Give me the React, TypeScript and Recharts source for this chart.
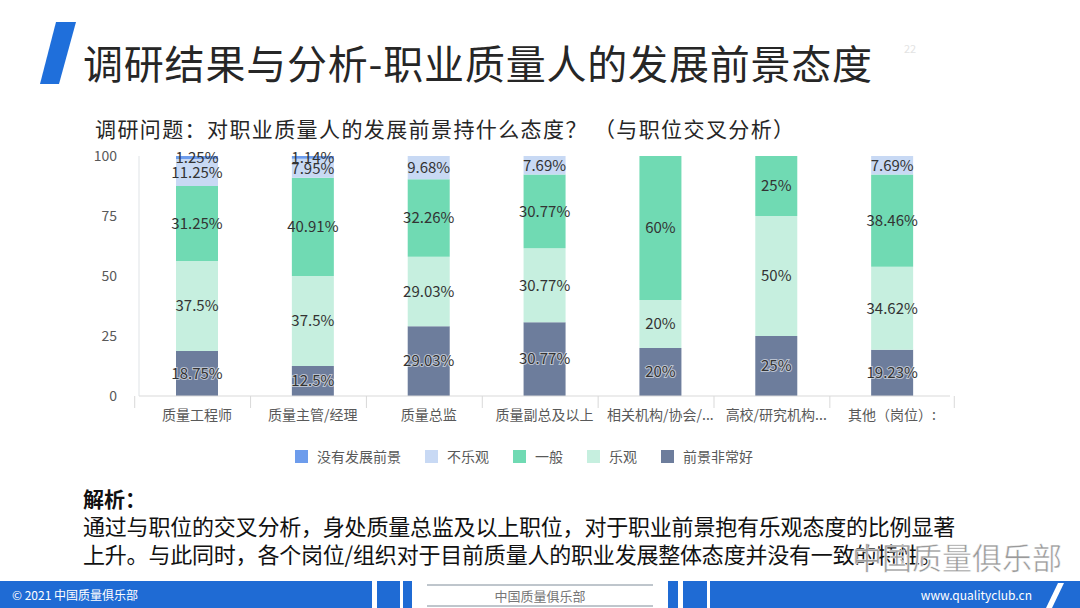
import { BarChart, Bar, XAxis, YAxis, Legend, LabelList } from 'recharts';

const categories = ['质量工程师', '质量主管/经理', '质量总监', '质量副总及以上', '相关机构/协会/...', '高校/研究机构...', '其他（岗位）:'];

// stacked bottom -> top
const veryGood = [18.75, 12.5, 29.03, 30.77, 20, 25, 19.23];
const optimistic = [37.5, 37.5, 29.03, 30.77, 20, 50, 34.62];
const neutral = [31.25, 40.91, 32.26, 30.77, 60, 25, 38.46];
const pessimistic = [11.25, 7.95, 9.68, 7.69, 0, 0, 7.69];
const noFuture = [1.25, 1.14, 0, 0, 0, 0, 0];

const yTicks = [0, 25, 50, 75, 100];

const series = [
  { key: 'veryGood', name: '前景非常好', color: '#6d7d9c', values: veryGood, halo: true },
  { key: 'optimistic', name: '乐观', color: '#c6efdf', values: optimistic, halo: false },
  { key: 'neutral', name: '一般', color: '#70dab3', values: neutral, halo: false },
  { key: 'pessimistic', name: '不乐观', color: '#c8d9f4', values: pessimistic, halo: false },
  { key: 'noFuture', name: '没有发展前景', color: '#6d9cec', values: noFuture, halo: false },
];

const data = categories.map((name, i) => {
  const row: Record<string, string | number> = { name };
  series.forEach((s) => {
    row[s.key] = s.values[i];
  });
  return row;
});

const FONT = '"Noto Sans CJK SC", "Noto Sans", sans-serif';
const CHART_W = 1080;
const CHART_H = 480;
const MARGIN = { top: 156, right: 130, left: 79, bottom: 54 };
const BAND = (CHART_W - MARGIN.left - MARGIN.right) / categories.length;

const CategoryTick = (props: any) => {
  const { x, y, payload, index } = props;
  const isLast = index === categories.length - 1;
  return (
    <g>
      <line x1={x - BAND / 2} y1={y} x2={x - BAND / 2} y2={y + 12} stroke="#d9d9d9" />
      {isLast && <line x1={x + BAND / 2} y1={y} x2={x + BAND / 2} y2={y + 12} stroke="#d9d9d9" />}
      <text x={x} y={y + 18} textAnchor="middle" dominantBaseline="central" fill="#595959" fontSize={14} fontFamily={FONT}>
        {payload.value}
      </text>
    </g>
  );
};

// legend lists the series top -> bottom of the stack
const LegendContent = () => {
  const items = [...series].reverse();
  return (
    <div style={{ display: 'flex', justifyContent: 'center', gap: 24, fontFamily: FONT, fontSize: 14, color: '#595959' }}>
      {items.map((it) => (
        <div key={it.key} style={{ display: 'flex', alignItems: 'center', gap: 9 }}>
          <span style={{ width: 13, height: 13, background: it.color, display: 'inline-block' }} />
          <span>{it.name}</span>
        </div>
      ))}
    </div>
  );
};

const pct = (v: any) => (v ? `${v}%` : '');

export default function App() {
  return (
    <div style={{ position: 'relative', width: 1080, height: 608, background: '#fff', overflow: 'hidden', fontFamily: FONT }}>
      <style>{'body{margin:0}'}</style>

      <svg width={1080} height={608} style={{ position: 'absolute', left: 0, top: 0 }}>
        <polygon points="56,22 76,22 59,84 40,84" fill="#1f6fdb" />
        {/* footer */}
        <rect x={0} y={581} width={372} height={27} fill="#1f6bd4" />
        <rect x={377} y={581} width={23} height={27} fill="#1f6bd4" />
        <rect x={403} y={581} width={9} height={27} fill="#1f6bd4" />
        <line x1={427} y1={585} x2={653} y2={585} stroke="#7f8c99" />
        <line x1={427} y1={606} x2={653} y2={606} stroke="#7f8c99" />
        <rect x={668} y={581} width={10} height={27} fill="#1f6bd4" />
        <rect x={683} y={581} width={24} height={27} fill="#1f6bd4" />
        <rect x={710} y={581} width={370} height={27} fill="#1f6bd4" />
        <polygon points="1058,583 1064,583 1052,608 1046,608" fill="#ffffff" />
      </svg>

      <div style={{ position: 'absolute', left: 83, top: 35, fontSize: 40, letterSpacing: 0.8, color: '#262626', whiteSpace: 'nowrap', lineHeight: '54px' }}>
        调研结果与分析-职业质量人的发展前景态度
      </div>
      <div style={{ position: 'absolute', left: 904, top: 40, fontSize: 11, color: '#e3e3e3' }}>22</div>
      <div style={{ position: 'absolute', left: 95, top: 113, fontSize: 21, letterSpacing: 1.4, color: '#262626', whiteSpace: 'nowrap', lineHeight: '30px' }}>
        调研问题：对职业质量人的发展前景持什么态度？ （与职位交叉分析）
      </div>

      <div style={{ position: 'absolute', left: 0, top: 0 }}>
        <BarChart width={CHART_W} height={CHART_H} data={data} margin={MARGIN} barCategoryGap={37}>
          <XAxis
            dataKey="name"
            height={30}
            interval={0}
            tickLine={false}
            tickSize={0}
            tickMargin={0}
            axisLine={{ stroke: '#d9d9d9' }}
            tick={<CategoryTick />}
          />
          <YAxis
            width={60}
            domain={[0, 100]}
            ticks={yTicks}
            tickLine={false}
            tickMargin={16}
            axisLine={{ stroke: '#dfe3e6' }}
            tick={{ fill: '#595959', fontSize: 14, fontFamily: FONT }}
          />
          <Legend
            verticalAlign="middle"
            align="center"
            wrapperStyle={{ top: 446, left: 0, width: 1048 }}
            content={<LegendContent />}
          />
          {series.map((s) => (
            <Bar key={s.key} dataKey={s.key} name={s.name} stackId="a" fill={s.color} isAnimationActive={false}>
              <LabelList
                dataKey={s.key}
                position="center"
                formatter={pct}
                fill="#333333"
                fontSize={15}
                fontFamily={FONT}
                stroke={s.halo ? 'rgba(255,255,255,0.55)' : 'none'}
                strokeWidth={s.halo ? 2 : 0}
                style={{ paintOrder: 'stroke' }}
              />
            </Bar>
          ))}
        </BarChart>
      </div>

      <div style={{ position: 'absolute', left: 83, top: 484, fontSize: 21, fontWeight: 700, color: '#111', lineHeight: '28px' }}>解析：</div>
      <div style={{ position: 'absolute', left: 83, top: 511, width: 900, fontSize: 22, letterSpacing: -0.2, color: '#111', lineHeight: '28px', whiteSpace: 'nowrap' }}>
        <div>通过与职位的交叉分析，身处质量总监及以上职位，对于职业前景抱有乐观态度的比例显著</div>
        <div>上升。与此同时，各个岗位/组织对于目前质量人的职业发展整体态度并没有一致的特性。</div>
      </div>
      <div
        style={{
          position: 'absolute', left: 852, top: 536, fontSize: 30, color: '#9a9a9a', whiteSpace: 'nowrap',
          WebkitTextStroke: '0.5px #ffffff', lineHeight: '40px',
        }}
      >
        中国质量俱乐部
      </div>

      <div style={{ position: 'absolute', left: 12, top: 585, fontSize: 12, color: '#fff', lineHeight: '20px' }}>© 2021 中国质量俱乐部</div>
      <div style={{ position: 'absolute', left: 427, width: 226, top: 586, fontSize: 13, color: '#777', lineHeight: '20px', textAlign: 'center' }}>中国质量俱乐部</div>
      <div style={{ position: 'absolute', right: 48, top: 585, fontSize: 12, color: '#fff', lineHeight: '20px' }}>www.qualityclub.cn</div>
    </div>
  );
}
